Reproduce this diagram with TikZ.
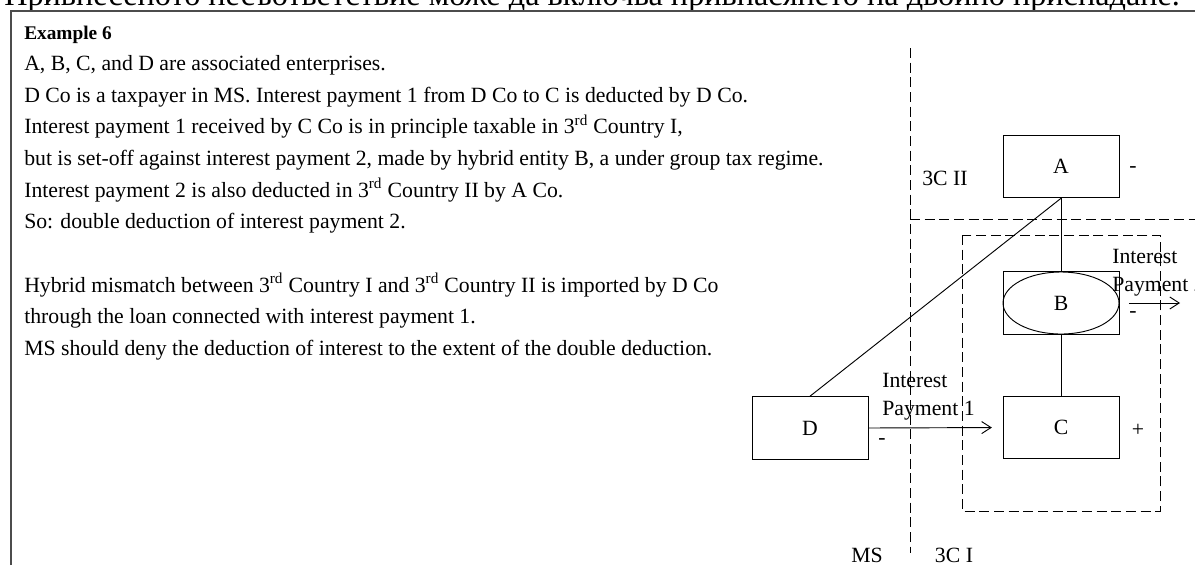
\documentclass[tikz,border=0pt]{standalone}
\usepackage{fontspec}
\setmainfont{Liberation Serif}
\usetikzlibrary{positioning,arrows.meta}
\newcommand{\bodyfont}{\fontsize{16.3}{23.75}\selectfont}
\newcommand{\diagfont}{\fontsize{16.3}{21}\selectfont}

\begin{document}
\begin{tikzpicture}[x=0.75pt, y=-0.75pt,
    entity/.style={
        rectangle, draw, line width=0.7pt,
        minimum width=87pt, minimum height=47pt,
        inner sep=0pt, font=\diagfont
    },
    sign/.style={inner sep=0pt, font=\diagfont},
    paylabel/.style={anchor=north west, align=left, inner sep=0pt, font=\diagfont},
    border/.style={dash pattern=on 7.5pt off 3.5pt, line width=0.7pt},
    arrow/.style={-{Straight Barb[length=7pt,width=9pt]}, line width=0.7pt}
]
  \useasboundingbox (0,0) rectangle (1195,565);

  % Heading above the frame (cut by the page edge)
  \node[anchor=base west, inner sep=0pt, font=\fontsize{24.2}{28}\selectfont] (banner) at (4,5)
      {Привнесеното несъответствие може да включва привнасянето на двойно приспадане.};
  \draw[line width=1.3pt, draw=black!70] (11,565) -- (11,11) -- (1195,11);

  % Text of the example
  \node[anchor=base west, inner sep=0pt, font=\fontsize{14.5}{17}\selectfont\bfseries] (title) at (24,39) {Example 6};
  \node[anchor=north west, inner sep=0pt, align=left, font=\bodyfont] (story) at (24,55) {%
      A, B, C, and D are associated enterprises.\\
      D Co is a taxpayer in MS. Interest payment 1 from D Co to C is deducted by D Co.\\
      Interest payment 1 received by C Co is in principle taxable in 3\textsuperscript{rd} Country I,\\
      but is set-off against interest payment 2, made by hybrid entity B, a under group tax regime.\\
      Interest payment 2 is also deducted in 3\textsuperscript{rd} Country II by A Co.\\
      So: double deduction of interest payment 2.\\[23.75pt]
      Hybrid mismatch between 3\textsuperscript{rd} Country I and 3\textsuperscript{rd} Country II is imported by D Co\\
      through the loan connected with interest payment 1.\\
      MS should deny the deduction of interest to the extent of the double deduction.};

  % Country borders
  \draw[border] (910,48) -- (910,553);
  \draw[border] (910,219) -- (1195,219);
  \draw[border] (962,235) rectangle (1160,511);
  \node[sign] (lblCII) at (945,178) {3C II};
  \node[sign] (lblMS) at (867,555) {MS};
  \node[sign] (lblCI) at (954,555) {3C I};

  % Enterprises
  \node[entity] (entA) at (1061,166.5) {A};
  \node[entity] (entB) at (1061,303) {B};
  \draw[line width=0.7pt] (entB.center) ellipse [x radius=43.5pt, y radius=23.25pt];
  \node[entity] (entC) at (1061,427.5) {C};
  \node[entity] (entD) at (810,428) {D};

  % Links
  \draw[line width=0.7pt] (entA.south) -- (entB.north);
  \draw[line width=0.7pt] (entB.south) -- (entC.north);
  \draw[line width=0.7pt] (entA.south) -- (entD.north);

  % Interest payments
  \draw[arrow, shorten >=8pt] (entD.east) -- (entC.west);
  \node[paylabel] (pay1) at (882,373) {Interest\\Payment 1};
  \coordinate (pay2end) at (1180,303);
  \draw[arrow] ([xshift=7pt]entB.east) -- (pay2end);
  \node[paylabel] (pay2) at (1112,249) {Interest\\Payment 2};

  % Signs
  \node[sign] (signA) at (1133,170) {-};
  \node[sign] (signB) at (1133,315) {-};
  \node[sign] (signC) at (1138,430) {+};
  \node[sign] (signD) at (882,442) {-};
\end{tikzpicture}
\end{document}
